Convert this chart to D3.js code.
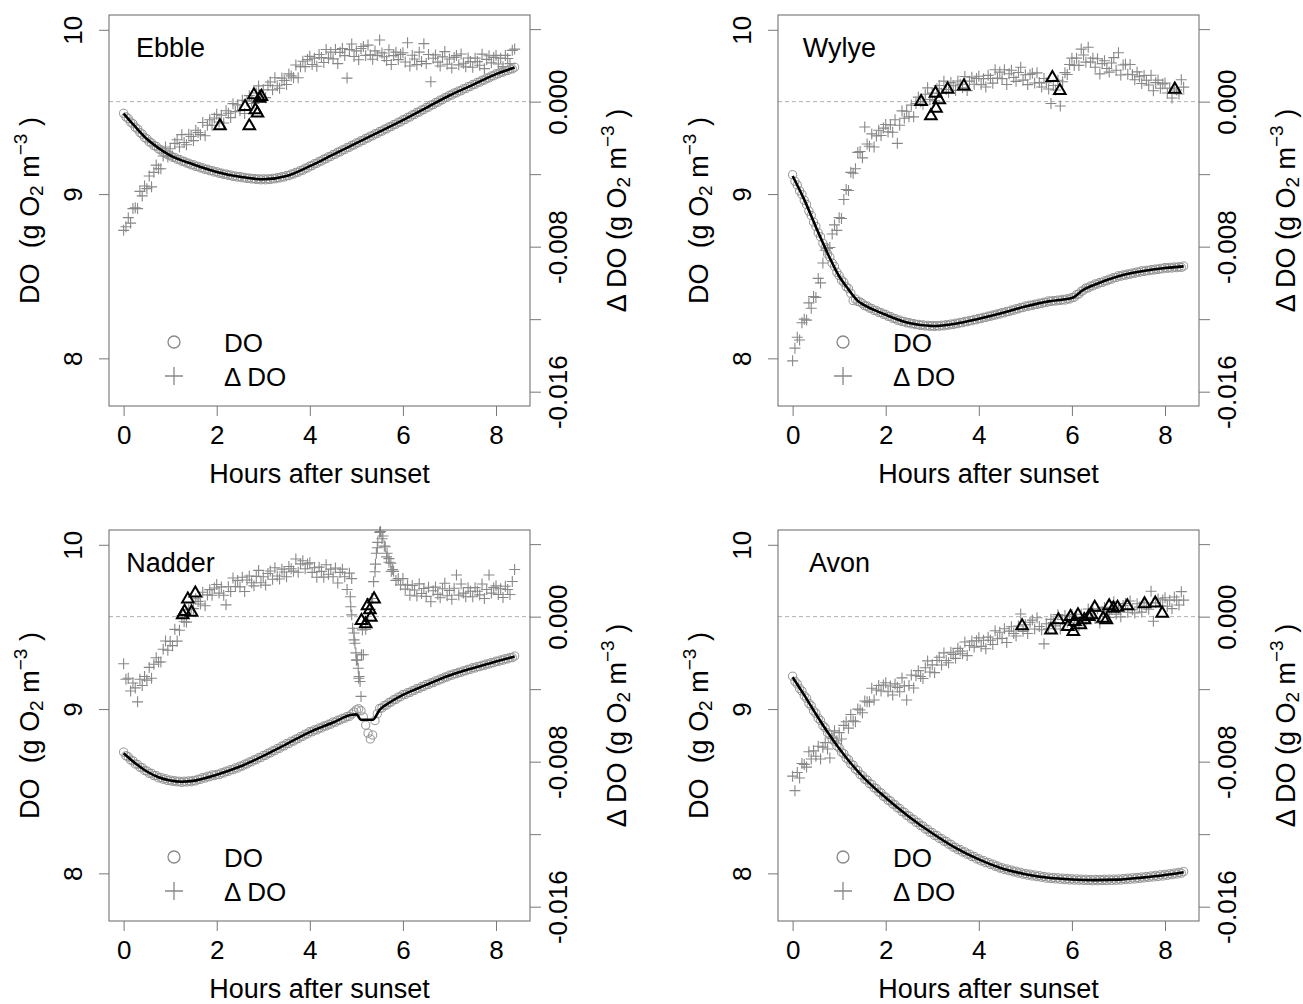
<!DOCTYPE html>
<html lang="en">
<head>
<meta charset="UTF-8">
<title>Night-time DO and delta DO</title>
<script src="https://cdnjs.cloudflare.com/ajax/libs/d3/7.8.5/d3.min.js"></script>
<style>
  body { margin: 0; background: #fff; }
  svg { display: block; font-family: "Liberation Sans", Arial, sans-serif; }
  .box { fill: none; stroke: #666; stroke-width: 1; }
  .axis path.domain { display: none; }
  .axis line { stroke: #777; }
  .axis text { fill: #000; font-size: 26px; }
  .title { font-size: 27px; fill: #000; white-space: pre; }
</style>
</head>
<body>
<svg width="1303" height="1004"></svg>
<script>
// sampling interval of the logger series, hours
const sampleStep = 0.05;

const xTicks = [0, 2, 4, 6, 8];
const doTicks = [8, 9, 10];
const deltaTicks = [-16, -12, -8, -4, 0, 4];          // 10^-3 g O2 m^-3
const deltaLabels = { "0": "0.000", "-8": "-0.008", "-16": "-0.016" };

// ---- Ebble ----
const ebbleDO = [9.492,9.470,9.459,9.438,9.428,9.407,9.396,9.375,9.365,9.344,
 9.336,9.318,9.311,9.295,9.291,9.275,9.270,9.256,9.253,9.239,
 9.236,9.224,9.223,9.212,9.211,9.200,9.199,9.189,9.188,9.178,
 9.179,9.168,9.169,9.159,9.160,9.150,9.152,9.142,9.143,9.134,
 9.136,9.127,9.128,9.120,9.122,9.114,9.116,9.108,9.110,9.103,
 9.107,9.099,9.102,9.095,9.098,9.092,9.095,9.089,9.093,9.087,
 9.093,9.087,9.093,9.089,9.096,9.093,9.100,9.098,9.106,9.104,
 9.113,9.112,9.122,9.122,9.132,9.133,9.144,9.145,9.157,9.159,
 9.171,9.173,9.185,9.187,9.199,9.201,9.213,9.215,9.227,9.229,
 9.241,9.243,9.255,9.257,9.269,9.271,9.283,9.285,9.297,9.299,
 9.311,9.313,9.325,9.327,9.339,9.341,9.353,9.355,9.367,9.369,
 9.381,9.383,9.395,9.397,9.409,9.411,9.423,9.425,9.437,9.439,
 9.452,9.454,9.467,9.469,9.482,9.484,9.497,9.499,9.512,9.514,
 9.527,9.529,9.542,9.544,9.557,9.559,9.572,9.574,9.587,9.589,
 9.602,9.603,9.615,9.616,9.628,9.629,9.641,9.642,9.654,9.655,
 9.667,9.668,9.680,9.681,9.693,9.694,9.706,9.707,9.719,9.720,
 9.732,9.732,9.742,9.742,9.752,9.752,9.762,9.762,9.772];
const ebbleDelta = [-7.1,-6.9,-6.4,-6.7,-5.9,-5.85,-5.9,-4.95,-5.2,-4.65,
 -4.8,-4.1,-4.7,-3.9,-3.5,-3.7,-3.7,-3.0,-2.5,-3.05,
 -2.6,-3.0,-2.3,-2.1,-2.5,-1.82,-2.25,-2.38,-1.8,-1.92,
 -2.15,-1.58,-1.7,-1.82,-1.15,-1.88,-1.3,-1.0,-1.3,-0.9,
 -0.7,-1.12,-0.75,-1.18,-0.5,-0.64,-0.88,-0.11,-0.55,-0.18,
 -0.5,0.08,-0.65,0.04,0.33,0.02,-0.1,0.48,0.87,0.26,
 0.65,0.22,0.9,1.08,0.65,1.32,0.88,0.74,1.3,1.17,
 0.95,1.53,1.42,1.32,2.02,1.32,1.93,2.23,1.93,2.32,
 2.5,2.05,2.4,1.95,2.6,2.43,2.16,2.88,2.4,2.73,
 2.36,2.88,2.1,2.72,2.93,2.54,1.3,2.87,3.18,2.49,
 2.8,2.31,2.93,3.04,2.55,3.12,2.58,2.34,2.8,2.55,
 3.4,2.69,2.48,2.27,2.86,2.05,2.54,2.73,2.32,2.61,
 2.7,2.19,3.25,1.97,2.56,2.35,2.04,2.73,2.22,3.2,
 2.1,2.6,1.1,2.39,2.58,2.18,1.97,2.47,2.76,2.06,
 2.35,1.85,2.44,2.54,2.03,2.63,2.12,1.92,2.41,2.21,
 1.9,2.4,2.21,2.01,2.62,1.82,2.33,2.53,2.14,2.44,
 2.55,2.08,2.4,1.93,2.55,2.38,2.1,2.83,2.9];
const ebbleFitHours = [0,0.25,0.5,0.75,1,1.5,2,2.5,3,3.5,4,4.5,5,5.5,6,6.5,7,7.5,8,8.4];
const ebbleFitDO = [9.49,9.41,9.335,9.28,9.235,9.18,9.135,9.105,9.09,9.11,9.17,9.24,9.31,9.38,9.45,9.525,9.6,9.665,9.73,9.77];
const ebbleTriHours = [2.07,2.61,2.70,2.80,2.83,2.875,2.92,2.96];
const ebbleTriDelta = [-1.34,-0.28,-1.34,0.37,-0.46,-0.64,0.18,0.28];

// ---- Wylye ----
const wylyeDO = [9.118,9.078,9.055,9.019,8.998,8.962,8.937,8.896,8.870,8.829,
 8.803,8.764,8.740,8.700,8.676,8.636,8.616,8.580,8.560,8.524,
 8.504,8.476,8.463,8.436,8.424,8.396,8.352,8.361,8.346,8.343,
 8.333,8.320,8.318,8.306,8.304,8.292,8.291,8.280,8.279,8.268,
 8.268,8.256,8.255,8.244,8.243,8.232,8.233,8.224,8.225,8.216,
 8.218,8.210,8.212,8.205,8.207,8.200,8.204,8.197,8.201,8.195,
 8.200,8.194,8.200,8.196,8.202,8.198,8.205,8.202,8.209,8.206,
 8.214,8.211,8.219,8.217,8.225,8.223,8.231,8.229,8.237,8.235,
 8.244,8.242,8.250,8.249,8.257,8.256,8.264,8.263,8.271,8.270,
 8.279,8.277,8.286,8.285,8.294,8.293,8.302,8.301,8.310,8.309,
 8.319,8.316,8.324,8.322,8.330,8.328,8.336,8.334,8.342,8.340,
 8.350,8.346,8.352,8.349,8.355,8.352,8.359,8.355,8.363,8.361,
 8.370,8.372,8.388,8.392,8.408,8.415,8.428,8.429,8.441,8.441,
 8.453,8.452,8.462,8.462,8.472,8.472,8.482,8.482,8.492,8.492,
 8.503,8.500,8.508,8.506,8.514,8.512,8.520,8.518,8.526,8.524,
 8.533,8.529,8.536,8.533,8.540,8.537,8.544,8.541,8.548,8.545,
 8.553,8.548,8.554,8.550,8.556,8.552,8.558,8.554,8.562];
const wylyeDelta = [-14.3,-13.6,-13.0,-13.15,-12.2,-12.0,-12.05,-11.1,-11.4,-10.75,
 -10.8,-9.75,-10.0,-8.9,-8.2,-8.1,-8.05,-7.3,-6.8,-7.1,
 -6.4,-6.45,-5.4,-4.85,-4.9,-3.9,-3.95,-3.7,-2.8,-2.75,
 -3.1,-1.4,-2.34,-2.46,-1.78,-2.5,-1.89,-1.58,-1.87,-1.46,
 -1.26,-1.67,-1.28,-1.69,-1.0,-2.3,-1.3,-0.51,-0.92,-0.53,
 -0.84,-0.19,-0.84,-0.1,0.25,0.0,-0.15,0.41,0.76,0.12,
 0.47,0.04,0.71,0.89,0.46,1.13,0.67,0.51,1.05,0.88,
 0.62,1.14,0.96,0.77,1.39,0.61,1.13,1.35,0.96,1.28,
 1.4,0.94,1.27,0.81,1.45,1.28,1.02,1.76,1.3,1.63,
 1.27,1.76,0.95,1.54,1.73,1.33,1.12,1.61,1.9,1.19,
 1.48,0.94,1.5,1.57,1.03,1.59,1.05,0.81,1.28,1.04,
 0.7,-0.1,0.89,0.64,1.18,-0.24,1.1,1.6,1.5,2.05,
 2.4,2.0,2.4,2.0,2.9,2.57,2.18,3.0,2.19,2.4,
 1.9,2.37,1.53,2.1,2.26,1.83,1.63,2.13,2.43,1.73,
 2.7,1.47,2.02,2.06,1.51,2.05,1.48,1.21,1.64,1.37,
 1.0,1.44,1.18,0.92,1.46,0.6,1.05,1.19,0.74,0.98,
 1.03,0.48,0.74,0.2,0.75,0.64,0.42,1.21,0.8];
const wylyeFitHours = [0,0.25,0.5,0.75,1,1.2,1.4,1.5,1.75,2,2.5,3,3.5,4,4.5,5,5.5,5.85,6,6.25,6.5,7,7.5,8,8.4];
const wylyeFitDO = [9.11,8.966,8.8,8.64,8.5,8.42,8.35,8.33,8.295,8.265,8.215,8.197,8.211,8.241,8.276,8.316,8.347,8.36,8.367,8.418,8.45,8.5,8.53,8.55,8.56];
const wylyeTriHours = [2.76,2.97,3.07,3.08,3.15,3.33,3.68,5.58,5.74,8.21];
const wylyeTriDelta = [0.0,-0.79,0.46,-0.37,0.09,0.68,0.86,1.32,0.61,0.68];

// ---- Nadder ----
const nadderDO = [8.738,8.716,8.709,8.690,8.685,8.666,8.663,8.646,8.643,8.626,
 8.623,8.609,8.609,8.595,8.595,8.581,8.584,8.573,8.576,8.565,
 8.568,8.560,8.564,8.557,8.561,8.554,8.561,8.556,8.563,8.558,
 8.566,8.563,8.573,8.572,8.583,8.580,8.591,8.588,8.599,8.595,
 8.603,8.601,8.612,8.611,8.622,8.621,8.632,8.631,8.642,8.641,
 8.653,8.653,8.665,8.666,8.678,8.679,8.691,8.692,8.704,8.705,
 8.718,8.718,8.731,8.733,8.746,8.747,8.760,8.761,8.775,8.776,
 8.790,8.790,8.804,8.805,8.818,8.820,8.833,8.834,8.847,8.849,
 8.863,8.862,8.874,8.873,8.885,8.885,8.897,8.897,8.908,8.908,
 8.921,8.920,8.932,8.933,8.944,8.944,8.955,8.956,8.970,8.982,
 8.995,9.002,8.990,8.952,8.902,8.853,8.818,8.842,8.930,8.972,
 9.004,9.007,9.022,9.025,9.040,9.043,9.057,9.059,9.073,9.075,
 9.089,9.089,9.100,9.101,9.112,9.114,9.125,9.126,9.137,9.138,
 9.150,9.150,9.160,9.161,9.172,9.173,9.183,9.184,9.195,9.195,
 9.207,9.206,9.215,9.215,9.224,9.224,9.233,9.233,9.242,9.242,
 9.252,9.250,9.259,9.258,9.267,9.266,9.275,9.274,9.283,9.282,
 9.292,9.290,9.299,9.298,9.307,9.305,9.314,9.313,9.323];
const nadderDelta = [-2.6,-3.45,-3.4,-4.1,-3.66,-3.93,-4.7,-3.45,-3.8,-3.3,
 -3.5,-2.8,-3.4,-2.63,-2.27,-2.5,-2.5,-1.8,-1.34,-1.85,
 -1.37,-1.6,-0.7,-1.35,-0.75,0.03,-0.28,-0.3,0.38,0.46,
 0.44,0.99,0.84,0.7,1.35,0.6,1.2,1.49,1.18,1.58,
 1.77,1.3,1.64,1.18,0.65,1.65,1.39,2.13,1.66,2.0,
 1.64,2.17,1.39,2.02,2.24,1.87,1.7,2.22,2.55,1.87,
 2.2,1.74,2.38,2.52,2.06,2.7,2.24,2.08,2.62,2.46,
 2.2,2.77,2.64,2.51,3.18,2.45,2.91,3.08,2.64,2.91,
 2.97,2.44,2.7,2.17,2.73,2.5,2.18,2.86,2.34,2.62,
 2.2,2.68,1.86,2.44,2.62,2.2,1.5,2.4,2.1,-0.9,
 -2.4,-3.4,-4.4,-2.1,-0.7,-0.2,0.4,1.0,2.48,3.8,
 4.65,4.3,3.9,3.3,3.0,2.5,2.5,2.0,2.1,1.75,
 2.1,1.52,1.75,1.18,1.72,1.47,1.14,1.81,1.28,1.55,
 1.12,1.62,0.82,1.43,1.63,1.23,1.04,1.54,1.84,1.15,
 1.45,0.96,1.57,2.3,1.19,1.8,1.3,1.1,1.6,1.4,
 1.1,1.6,1.4,1.2,1.8,1.0,1.5,2.3,1.3,1.6,
 1.7,1.22,1.54,1.06,1.68,1.5,1.22,1.94,2.6];
// extra readings logged during the 5 h disturbance
const nadderSpikeHours = [4.87,4.88,4.9,4.92,4.95,4.97,4.99,5.02,5.04,5.06,5.08,5.11,5.13,5.33,5.37,5.41,5.43,5.46,5.52,5.57,5.62,5.66,5.7,5.74,5.78];
const nadderSpikeDelta = [1.1,0.55,0.1,-0.64,-1.28,-1.47,-2.0,-2.39,-2.85,-3.3,-3.58,-2.1,-0.73,1.0,1.93,2.9,3.5,4.1,4.7,4.45,3.86,3.5,3.2,2.95,2.6];
const nadderFitHours = [0,0.25,0.5,0.75,1,1.25,1.5,2,2.5,3,3.5,4,4.5,4.9,5.0,5.1,5.35,5.5,5.75,6,6.5,7,7.5,8,8.4];
const nadderFitDO = [8.731,8.67,8.62,8.585,8.565,8.558,8.563,8.6,8.65,8.715,8.787,8.86,8.918,8.965,8.968,8.935,8.935,8.995,9.046,9.086,9.147,9.204,9.249,9.289,9.32];
const nadderTriHours = [1.27,1.31,1.38,1.46,1.54,5.11,5.2,5.24,5.29,5.31,5.38];
const nadderTriDelta = [0.09,0.28,0.96,0.24,1.29,-0.22,-0.4,0.59,0.37,-0.04,0.97];

// ---- Avon ----
const avonDO = [9.200,9.169,9.153,9.125,9.110,9.081,9.066,9.035,9.020,8.989,
 8.974,8.944,8.930,8.900,8.886,8.856,8.844,8.816,8.804,8.776,
 8.764,8.738,8.728,8.702,8.692,8.666,8.658,8.634,8.626,8.602,
 8.594,8.573,8.568,8.547,8.542,8.521,8.516,8.495,8.490,8.469,
 8.464,8.445,8.441,8.422,8.418,8.399,8.395,8.376,8.372,8.353,
 8.349,8.331,8.329,8.311,8.309,8.291,8.288,8.270,8.268,8.250,
 8.248,8.231,8.230,8.213,8.212,8.196,8.195,8.178,8.177,8.160,
 8.159,8.144,8.145,8.130,8.131,8.116,8.117,8.102,8.103,8.088,
 8.089,8.076,8.078,8.065,8.067,8.054,8.056,8.043,8.045,8.032,
 8.034,8.023,8.027,8.016,8.020,8.009,8.013,8.002,8.006,7.995,
 7.999,7.989,7.995,7.984,7.990,7.980,7.986,7.976,7.981,7.971,
 7.977,7.968,7.975,7.966,7.973,7.964,7.971,7.962,7.969,7.960,
 7.967,7.959,7.966,7.958,7.965,7.957,7.964,7.956,7.963,7.955,
 7.963,7.955,7.963,7.956,7.964,7.956,7.965,7.957,7.965,7.958,
 7.966,7.959,7.968,7.962,7.971,7.964,7.973,7.966,7.975,7.969,
 7.978,7.972,7.981,7.975,7.984,7.978,7.988,7.981,7.991,7.984,
 7.994,7.988,7.998,7.992,8.002,7.996,8.006,8.001,8.011];
const avonDelta = [-8.8,-9.6,-8.6,-8.9,-8.1,-8.15,-8.3,-7.45,-7.85,-7.4,
 -7.7,-7.15,-7.85,-7.2,-6.95,-7.3,-7.8,-6.7,-6.3,-6.85,
 -6.4,-6.75,-6.0,-5.8,-6.15,-5.4,-5.75,-5.8,-5.1,-5.15,
 -5.3,-4.65,-4.7,-4.7,-3.95,-4.6,-4.05,-3.8,-4.1,-3.77,
 -3.65,-4.14,-3.83,-4.32,-3.71,-3.9,-4.14,-3.38,-3.82,-4.6,
 -3.8,-3.22,-3.94,-3.26,-2.98,-3.3,-3.41,-2.82,-2.44,-3.05,
 -2.66,-3.09,-2.42,-2.24,-2.67,-2.0,-2.42,-2.54,-1.96,-2.08,
 -2.3,-1.75,-1.9,-2.05,-1.4,-2.15,-1.59,-1.34,-1.68,-1.33,
 -1.17,-1.64,-1.3,-1.77,-1.13,-1.3,-1.54,-0.78,-1.22,-0.86,
 -1.2,-0.67,-1.43,-0.8,-0.56,-0.93,-1.07,-0.52,0.15,-0.81,
 -0.45,-0.93,-0.31,-0.19,-0.68,-0.06,-0.54,-0.72,-1.5,-0.39,
 -0.67,-0.15,-0.33,-0.51,0.11,-0.68,-0.16,0.06,-0.32,0.0,
 0.12,-0.35,-0.02,-0.5,0.13,-0.04,-0.31,0.42,-0.06,0.27,
 -0.1,0.43,-0.35,0.28,0.51,0.14,-0.04,0.49,0.82,0.14,
 0.47,-0.01,0.61,0.72,0.24,0.86,0.38,0.2,0.71,0.53,
 0.25,0.77,0.59,0.41,1.4,-0.25,0.76,0.98,0.6,0.92,
 1.04,0.57,0.91,0.44,1.08,0.91,0.64,1.38,0.91];
const avonFitHours = [0,0.25,0.5,0.75,1,1.25,1.5,2,2.5,3,3.5,4,4.5,5,5.5,6,6.5,7,7.5,8,8.4];
const avonFitDO = [9.194,9.085,8.97,8.86,8.76,8.67,8.59,8.46,8.345,8.244,8.155,8.085,8.03,7.995,7.973,7.963,7.959,7.962,7.974,7.99,8.007];
const avonTriHours = [4.93,5.55,5.71,5.91,5.97,6.03,6.06,6.13,6.18,6.27,6.36,6.42,6.49,6.67,6.74,6.8,6.89,6.98,7.19,7.56,7.79,7.94];
const avonTriDelta = [-0.51,-0.74,-0.18,-0.55,0.0,-0.83,-0.28,0.09,-0.46,-0.18,0.0,0.09,0.51,-0.09,-0.18,0.59,0.46,0.51,0.59,0.7,0.74,0.18];

const panels = [
  { name: "Ebble", left: 109, top: 15, oxygen: ebbleDO, delta: ebbleDelta, extraHours: [], extraDelta: [],
    fitHours: ebbleFitHours, fitDO: ebbleFitDO, triHours: ebbleTriHours, triDelta: ebbleTriDelta },
  { name: "Wylye", left: 778, top: 15, oxygen: wylyeDO, delta: wylyeDelta, extraHours: [], extraDelta: [],
    fitHours: wylyeFitHours, fitDO: wylyeFitDO, triHours: wylyeTriHours, triDelta: wylyeTriDelta },
  { name: "Nadder", left: 109, top: 530, oxygen: nadderDO, delta: nadderDelta, extraHours: nadderSpikeHours, extraDelta: nadderSpikeDelta,
    fitHours: nadderFitHours, fitDO: nadderFitDO, triHours: nadderTriHours, triDelta: nadderTriDelta },
  { name: "Avon", left: 778, top: 530, oxygen: avonDO, delta: avonDelta, extraHours: [], extraDelta: [],
    fitHours: avonFitHours, fitDO: avonFitDO, triHours: avonTriHours, triDelta: avonTriDelta }
];

const svg = d3.select("svg");
const boxW = 421, boxH = 391;

const x = d3.scaleLinear().domain([-0.314, 8.73]).range([0, boxW]);
const yDO = d3.scaleLinear().domain([7.71, 10.09]).range([boxH, 0]);
const yDelta = d3.scaleLinear().domain([-16.79, 4.78]).range([boxH, 0]);

const plusPath = "M-5.5,0H5.5M0,-5.5V5.5";
const triPath = "M0,-6.7L5.8,3.35L-5.8,3.35Z";

// rotated title with sub/superscript, reading bottom to top
function unitTitle(g, xPos, lead) {
  const t = g.append("text").attr("class", "title")
    .attr("transform", `translate(${xPos},${boxH / 2}) rotate(-90)`)
    .attr("text-anchor", "middle");
  t.append("tspan").text(lead + "(g O");
  t.append("tspan").attr("font-size", 19).attr("dy", 4).text("2");
  t.append("tspan").attr("dy", -4).text(" m");
  t.append("tspan").attr("font-size", 19).attr("dy", -12).text("\u22123");
  t.append("tspan").attr("dy", 12).text(" )");
}

panels.forEach(p => {
  const g = svg.append("g").attr("transform", `translate(${p.left},${p.top})`);

  // dashed zero line for delta DO
  g.append("line")
    .attr("x1", 0).attr("x2", boxW)
    .attr("y1", yDelta(0)).attr("y2", yDelta(0))
    .attr("stroke", "#b0b0b0").attr("stroke-dasharray", "4,3");

  // delta DO points
  const deltaPts = p.delta.map((v, i) => [i * sampleStep, v])
    .concat(p.extraHours.map((h, i) => [h, p.extraDelta[i]]));
  g.append("g").selectAll("path")
    .data(deltaPts)
    .join("path")
    .attr("d", plusPath)
    .attr("transform", d => `translate(${x(d[0])},${yDelta(d[1])})`)
    .attr("fill", "none").attr("stroke", "#888").attr("stroke-width", 1.1);

  // DO points
  g.append("g").selectAll("circle")
    .data(p.oxygen)
    .join("circle")
    .attr("cx", (d, i) => x(i * sampleStep))
    .attr("cy", d => yDO(d))
    .attr("r", 4.1)
    .attr("fill", "none").attr("stroke", "#939393").attr("stroke-width", 1);

  // fitted DO curve
  const line = d3.line()
    .x((d, i) => x(p.fitHours[i]))
    .y(d => yDO(d))
    .curve(d3.curveMonotoneX);
  g.append("path")
    .datum(p.fitDO)
    .attr("d", line)
    .attr("fill", "none").attr("stroke", "#000").attr("stroke-width", 2.6);

  // selected delta DO readings
  g.append("g").selectAll("path")
    .data(p.triHours.map((h, i) => [h, p.triDelta[i]]))
    .join("path")
    .attr("d", triPath)
    .attr("transform", d => `translate(${x(d[0])},${yDelta(d[1])})`)
    .attr("fill", "none").attr("stroke", "#000").attr("stroke-width", 2);

  // box
  g.append("rect").attr("class", "box").attr("width", boxW).attr("height", boxH);

  // axes
  g.append("g").attr("class", "axis")
    .attr("transform", `translate(0,${boxH})`)
    .call(d3.axisBottom(x).tickValues(xTicks).tickSize(10).tickSizeOuter(0).tickPadding(9.5)
      .tickFormat(d3.format("d")))
    .attr("font-family", null).attr("font-size", null);

  const left = g.append("g").attr("class", "axis")
    .call(d3.axisLeft(yDO).tickValues(doTicks).tickSize(10).tickSizeOuter(0)
      .tickFormat(d3.format("d")))
    .attr("font-family", null).attr("font-size", null);
  left.selectAll("text")
    .attr("x", null).attr("dy", null)
    .attr("text-anchor", "middle")
    .attr("transform", "translate(-27,0) rotate(-90)");

  const right = g.append("g").attr("class", "axis")
    .attr("transform", `translate(${boxW},0)`)
    .call(d3.axisRight(yDelta).tickValues(deltaTicks).tickSize(11).tickSizeOuter(0)
      .tickFormat(d => deltaLabels[String(d)] || ""))
    .attr("font-family", null).attr("font-size", null);
  right.selectAll("text")
    .attr("x", null).attr("dy", null)
    .attr("text-anchor", "middle")
    .attr("transform", "translate(37,0) rotate(-90)");

  // axis titles
  g.append("text").attr("class", "title")
    .attr("x", boxW / 2).attr("y", boxH + 77)
    .attr("text-anchor", "middle")
    .text("Hours after sunset");
  unitTitle(g, -70, "DO  ");
  unitTitle(g, boxW + 96, "\u0394 DO ");

  // site name
  g.append("text").attr("class", "title")
    .attr("x", 61.5).attr("y", 42)
    .attr("text-anchor", "middle")
    .text(p.name);

  // legend
  g.append("circle").attr("cx", 65).attr("cy", 327).attr("r", 6)
    .attr("fill", "none").attr("stroke", "#888").attr("stroke-width", 1.3);
  g.append("path").attr("d", "M-9,0H9M0,-9V9")
    .attr("transform", "translate(65,361)")
    .attr("stroke", "#888").attr("stroke-width", 1.3);
  g.append("text").attr("x", 115).attr("y", 337)
    .attr("font-size", 26).text("DO");
  g.append("text").attr("x", 115).attr("y", 371)
    .attr("font-size", 26).text("\u0394 DO");
});
</script>
</body>
</html>
